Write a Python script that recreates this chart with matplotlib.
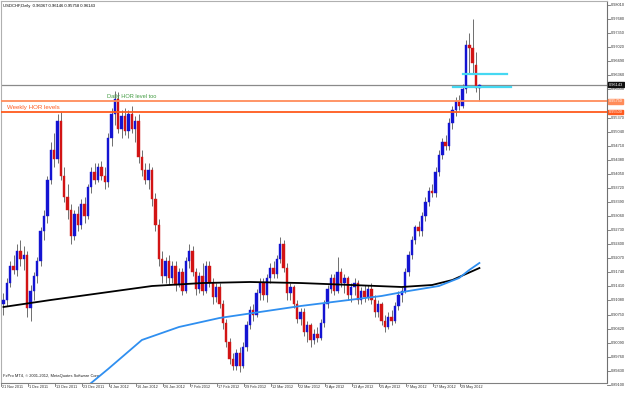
import matplotlib
matplotlib.use("Agg")
import matplotlib.pyplot as plt

plt.rcParams['font.family'] = ['Liberation Sans', 'DejaVu Sans']

# ---------------- data (USDCHF daily, 21 Nov 2011 .. 5 Jun 2012) ----------------
opens = [.9100, .9110, .9150, .9190, .9180, .9225, .9205, .9215, .9090, .9130,
         .9165, .9200, .9270, .9305, .9390, .9460, .9440, .9530, .9400, .9350,
         .9320, .9260, .9310, .9285, .9335, .9305, .9375, .9410, .9390, .9420,
         .9400, .9385, .9490, .9545, .9580, .9510, .9540, .9505, .9545, .9510,
         .9530, .9445, .9415, .9390, .9415, .9345, .9285, .9205, .9165, .9200,
         .9160, .9190, .9145, .9175, .9130, .9200, .9225, .9175, .9135, .9165,
         .9130, .9190, .9150, .9115, .9140, .9100, .9055, .9010, .8970, .8955,
         .8985, .8955, .9000, .9050, .9085, .9075, .9125, .9150, .9120, .9160,
         .9185, .9170, .9205, .9240, .9185, .9125, .9140, .9100, .9065, .9080,
         .9035, .9050, .9015, .9030, .9020, .9055, .9100, .9135, .9160, .9130,
         .9175, .9150, .9160, .9120, .9140, .9150, .9110, .9130, .9115, .9135,
         .9110, .9080, .9100, .9060, .9045, .9070, .9060, .9095, .9120, .9130,
         .9175, .9215, .9250, .9280, .9270, .9305, .9340, .9365, .9360, .9410,
         .9450, .9480, .9470, .9525, .9555, .9575, .9565, .9605, .9707, .9700,
         .9660, .96067]
highs = [.9125, .9160, .9200, .9215, .9240, .9250, .9235, .9225, .9145, .9175,
         .9210, .9280, .9320, .9400, .9480, .9500, .9545, .9550, .9420, .9380,
         .9335, .9320, .9330, .9345, .9350, .9380, .9420, .9430, .9430, .9435,
         .9420, .9500, .9560, .9600, .9596, .9555, .9560, .9555, .9565, .9540,
         .9545, .9460, .9430, .9430, .9420, .9360, .9300, .9225, .9210, .9215,
         .9200, .9200, .9185, .9185, .9210, .9240, .9235, .9185, .9175, .9195,
         .9200, .9200, .9160, .9150, .9150, .9110, .9065, .9020, .8985, .8995,
         .9000, .9010, .9060, .9095, .9100, .9135, .9160, .9160, .9170, .9195,
         .9200, .9215, .9258, .9250, .9195, .9150, .9145, .9110, .9090, .9090,
         .9060, .9055, .9040, .9045, .9065, .9110, .9145, .9170, .9170, .9210,
         .9185, .9170, .9165, .9150, .9160, .9155, .9140, .9145, .9145, .9150,
         .9120, .9110, .9105, .9075, .9080, .9085, .9105, .9130, .9140, .9185,
         .9225, .9260, .9285, .9295, .9315, .9350, .9375, .9380, .9420, .9460,
         .9490, .9495, .9535, .9565, .9585, .9590, .9615, .9720, .9736, .9768,
         .9690, .96146]
lows = [.9075, .9095, .9140, .9170, .9165, .9190, .9180, .9070, .9060, .9110,
        .9150, .9190, .9250, .9290, .9380, .9420, .9430, .9390, .9340, .9300,
        .9240, .9250, .9270, .9275, .9290, .9300, .9360, .9380, .9385, .9390,
        .9370, .9375, .9470, .9520, .9500, .9490, .9495, .9490, .9500, .9480,
        .9430, .9400, .9380, .9370, .9330, .9270, .9190, .9150, .9150, .9145,
        .9150, .9130, .9140, .9120, .9125, .9185, .9165, .9120, .9125, .9120,
        .9125, .9140, .9100, .9105, .9090, .9040, .9000, .8960, .8945, .8945,
        .8940, .8950, .8990, .9040, .9060, .9070, .9110, .9110, .9105, .9150,
        .9160, .9160, .9195, .9175, .9110, .9110, .9090, .9055, .9050, .9025,
        .9010, .9000, .9005, .9010, .9015, .9045, .9090, .9125, .9120, .9125,
        .9140, .9125, .9110, .9105, .9120, .9100, .9100, .9105, .9110, .9100,
        .9070, .9070, .9050, .9035, .9040, .9050, .9055, .9085, .9105, .9125,
        .9165, .9205, .9240, .9260, .9260, .9295, .9330, .9350, .9350, .9400,
        .9440, .9460, .9460, .9510, .9540, .9555, .9560, .9595, .9642, .9640,
        .9598, .95758]
closes = [.9110, .9150, .9190, .9180, .9225, .9205, .9215, .9090, .9130, .9165,
          .9200, .9270, .9305, .9390, .9460, .9440, .9530, .9400, .9350, .9320,
          .9260, .9310, .9285, .9335, .9305, .9375, .9410, .9390, .9420, .9400,
          .9385, .9490, .9545, .9580, .9510, .9540, .9505, .9545, .9510, .9530,
          .9445, .9415, .9390, .9415, .9345, .9285, .9205, .9165, .9200, .9160,
          .9190, .9145, .9175, .9130, .9200, .9225, .9175, .9135, .9165, .9130,
          .9190, .9150, .9115, .9140, .9100, .9055, .9010, .8970, .8955, .8985,
          .8955, .9000, .9050, .9085, .9075, .9125, .9150, .9120, .9160, .9185,
          .9170, .9205, .9240, .9185, .9125, .9140, .9100, .9065, .9080, .9035,
          .9050, .9015, .9030, .9020, .9055, .9100, .9135, .9160, .9130, .9175,
          .9150, .9160, .9120, .9140, .9150, .9110, .9130, .9115, .9135, .9110,
          .9080, .9100, .9060, .9045, .9070, .9060, .9095, .9120, .9130, .9175,
          .9215, .9250, .9280, .9270, .9305, .9340, .9365, .9360, .9410, .9450,
          .9480, .9470, .9525, .9555, .9575, .9565, .9605, .9707, .9700, .9665,
          .9607, .96143]

# moving averages (bar index, price)
ma_black_idx = [0, 14, 29, 44, 59, 73, 88, 103, 118, 127, 133, 137, 141]
ma_black_val = [0.90927, 0.91091, 0.91255, 0.91419, 0.91489, 0.91513, 0.91489,
                0.91443, 0.91396, 0.91443, 0.91560, 0.91701, 0.91841]
ma_blue_idx = [23, 31, 41, 52, 64, 76, 88, 100, 112, 120, 129, 135, 138, 141]
ma_blue_val = [0.8895, 0.89473, 0.90153, 0.90458, 0.90669, 0.90810, 0.90950,
               0.91068, 0.91185, 0.91302, 0.91419, 0.91607, 0.91795, 0.91959]

# horizontal levels
last_price = 0.96143
weekly_levels = [0.95750, 0.95500]
weekly_colors = ['#ff8c5a', '#ff5a1e']
cyan_levels = [0.96395, 0.96090]
cyan_start = [136.0, 133.2]
cyan_end = [149.2, 150.4]

# axis texts
date_idx = [0, 8, 16, 24, 32, 40, 48, 56, 64, 72, 80, 88, 96, 104, 112, 120, 128, 136]
date_labels = ["21 Nov 2011", "1 Dec 2011", "13 Dec 2011", "23 Dec 2011", "4 Jan 2012",
               "16 Jan 2012", "26 Jan 2012", "7 Feb 2012", "17 Feb 2012", "29 Feb 2012",
               "12 Mar 2012", "22 Mar 2012", "3 Apr 2012", "13 Apr 2012", "25 Apr 2012",
               "7 May 2012", "17 May 2012", "29 May 2012"]
price_ticks = [0.98010, 0.97680, 0.97350, 0.97020, 0.96690, 0.96360, 0.96030, 0.95700,
               0.95370, 0.95040, 0.94710, 0.94380, 0.94050, 0.93720, 0.93390, 0.93060,
               0.92730, 0.92400, 0.92070, 0.91740, 0.91410, 0.91080, 0.90750, 0.90420,
               0.90090, 0.89760, 0.89430, 0.89100]

# ---------------- figure ----------------
fig = plt.figure(figsize=(6.25, 3.93), dpi=100)
ax = fig.add_axes([1 / 625, 10 / 393, 606 / 625, 382 / 393])
ax.set_facecolor('white')
ax.set_xlim(-0.74, 178.8)
ax.set_ylim(0.89144, 0.98104)

bull_c = '#1414d2'
bear_c = '#d21414'
wick_c = '#6e6e6e'
n = len(opens)
xs = list(range(n))
ax.vlines(xs, lows, highs, color=wick_c, lw=0.7, zorder=2)
for i in xs:
    o, c = opens[i], closes[i]
    col = bull_c if c >= o else bear_c
    bot = min(o, c)
    h = max(abs(c - o), 0.00012)
    ax.bar(i, h, bottom=bot, width=0.72, color=col, edgecolor=col, lw=0.3, zorder=3)

ax.plot(ma_black_idx, ma_black_val, color='black', lw=1.3, zorder=4)
ax.plot(ma_blue_idx, ma_blue_val, color='#2f8ff0', lw=1.3, zorder=4)

ax.axhline(last_price, color='#8a8a8a', lw=0.9, zorder=1)
for lv, col in zip(weekly_levels, weekly_colors):
    ax.axhline(lv, color=col, lw=1.3, zorder=5)
for lv, x0, x1 in zip(cyan_levels, cyan_start, cyan_end):
    ax.plot([x0, x1], [lv, lv], color='#45d8f2', lw=1.6, zorder=6)

ax.text(30.8, 0.95870, "Daily HOR level too", color='#3f9a3f', fontsize=4.1,
        va='center', ha='left', zorder=7)
ax.text(1.0, 0.95600, "Weekly HOR levels", color='#ff5a1e', fontsize=4.4,
        va='center', ha='left', zorder=7)

ax.text(0.004, 0.993, "USDCHF,Daily  0.96067 0.96146 0.95758 0.96143",
        transform=ax.transAxes, fontsize=3.0, va='top', ha='left', color='black')
ax.text(0.004, 0.012, "FxPro MT4, \u00a9 2001-2012, MetaQuotes Software Corp.",
        transform=ax.transAxes, fontsize=2.9, va='bottom', ha='left', color='#202020')

# spines
for s in ['left', 'top']:
    ax.spines[s].set_color('#b0b0b0')
    ax.spines[s].set_linewidth(0.8)
ax.spines['right'].set_color('#707070')
ax.spines['right'].set_linewidth(0.8)
ax.spines['bottom'].set_color('#808080')
ax.spines['bottom'].set_linestyle((0, (1, 1)))
ax.spines['bottom'].set_linewidth(0.8)
ax.set_xticks([])
ax.set_yticks([])

ytr = ax.get_yaxis_transform()
xtr = ax.get_xaxis_transform()
covered = weekly_levels + [last_price]
for p in price_ticks:
    ax.plot([1.0, 1.005], [p, p], transform=ytr, color='#707070', lw=0.6, clip_on=False)
    if min(abs(p - q) for q in covered) < 0.0006:
        continue  # hidden behind a level label, as in the original
    ax.text(1.006, p, f"{p:.5f}", transform=ytr, fontsize=2.8, va='center', ha='left',
            color='#303030', clip_on=False)

ax.text(1.003, last_price, f"{last_price:.5f}", transform=ytr, fontsize=2.8, va='center',
        ha='left', color='white', clip_on=False, zorder=10,
        bbox=dict(boxstyle='square,pad=0.2', fc='#101010', ec='#101010'))
for lv, col in zip(weekly_levels, weekly_colors):
    ax.text(1.003, lv, f"{lv:.5f}", transform=ytr, fontsize=2.8, va='center',
            ha='left', color='white', clip_on=False, zorder=10,
            bbox=dict(boxstyle='square,pad=0.12', fc=col, ec=col))

for i, lab in zip(date_idx, date_labels):
    ax.plot([i - 0.7, i - 0.7], [0.0, -0.008], transform=xtr, color='#707070', lw=0.6,
            clip_on=False)
    ax.text(i - 0.4, -0.006, lab, transform=xtr, fontsize=2.7, va='top', ha='left',
            color='#303030', clip_on=False)

fig.savefig('out.png', dpi=100, facecolor='white')
